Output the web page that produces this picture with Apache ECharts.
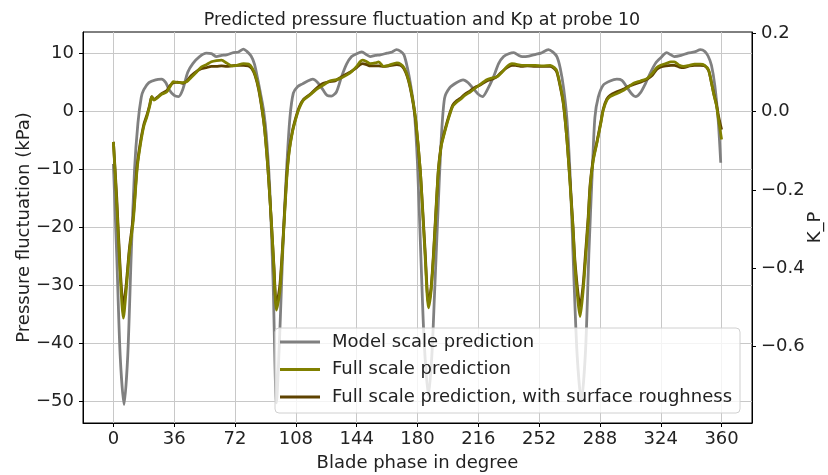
<!DOCTYPE html>
<html>
<head>
<meta charset="utf-8">
<script src="https://cdn.jsdelivr.net/npm/echarts@6/dist/echarts.min.js"></script>
<style>
  html, body { margin: 0; padding: 0; background: #fff; }
  #chart { width: 828px; height: 475px; }
</style>
</head>
<body>
<div id="chart"></div>
<script>
// blade phase ticks (deg) and axis ticks
const phaseTicks = [0, 36, 72, 108, 144, 180, 216, 252, 288, 324, 360]
const kpaTicks = [-50, -40, -30, -20, -10, 0, 10]
const kpTicks = [-0.6, -0.4, -0.2, 0.0, 0.2]

const seriesNames = [
  'Model scale prediction',
  'Full scale prediction',
  'Full scale prediction, with surface roughness',
]

// [phase deg, kPa]
const modelScale = [
  [0,-9],[2,-25],[4,-42],[6.3,-50.5],[8.5,-42],[10.5,-25],[12.5,-10],[14.5,-2],[16.5,2.5],[18,3.8],
  [21,5.0],[25,5.5],[28.5,5.6],[31,5.0],[33,3.8],[36,2.8],[38.5,2.6],[41,3.8],[44,6.8],[47,8.3],
  [51,9.5],[55,10.1],[58,10.0],[61,9.5],[64,9.7],[67,9.8],[71,10.2],[74,10.3],[77,10.8],[79,10.4],
  [81.5,9.6],[83.5,8.2],[85.5,5.5],[87.5,2.5],[89,0],[90.5,-4],[92.5,-13],[94.5,-29],[96.5,-50.2],[98.5,-38],
  [100.5,-22],[102.5,-10],[104.5,-1],[106.5,3.2],[109,4.3],[112,4.8],[115,5.3],[118,5.6],[121,5.0],[124,3.8],
  [126.5,2.8],[129,2.7],[132,3.4],[135,6.0],[138,8.2],[141,9.5],[144,10.0],[147,10.3],[150,9.8],[152,9.5],
  [155,9.7],[158,9.8],[162,10.1],[165,10.3],[167.5,10.7],[170,10.4],[172,9.8],[174,7.6],[176,4.5],[178,0.5],
  [180,-9],[182,-25],[184,-40],[186.5,-49],[188.5,-42],[190,-32],[192,-18],[194,-5],[196,2.3],[199,4.1],
  [203,5.0],[207,5.5],[210,5.0],[213,4.0],[216,3.0],[218.5,2.6],[221,3.6],[225,6.0],[228,8.3],[231,9.5],
  [234,10.0],[237,10.2],[240,9.7],[242,9.5],[246,9.6],[250,9.9],[253,10.1],[257.5,10.7],[260,10.3],[262.5,9.5],
  [264.5,7.5],[266.5,4.0],[268.5,-1.5],[270.5,-12],[272.5,-28],[274.5,-42],[277,-50],[279.5,-41],[281.5,-24],[283.5,-10],
  [285,-1],[287,2.5],[290,4.6],[294,5.3],[298,5.6],[301,5.4],[304,4.2],[307,3.0],[309,2.6],[312,3.3],
  [315,4.9],[318,6.8],[321,8.4],[324,9.3],[327.5,10.2],[330,9.8],[332,9.5],[336,9.7],[340,10.1],[344,10.3],
  [347.5,10.7],[350,10.4],[352,9.6],[354,8.0],[356,4.5],[358,-1.5],[359.5,-8.8],
]

const fullScale = [
  [0,-5.2],[2,-16],[4,-28],[5.9,-35.6],[7.5,-31],[9.5,-24],[11.8,-18.7],[14,-10],[15.8,-6],[18,-2.5],
  [19.8,-0.9],[21.5,1.0],[22.7,2.6],[24,2.0],[26,2.4],[28.5,3.0],[31.5,3.4],[33.5,4.3],[35.5,5.2],[38,5.0],
  [41,5.0],[43.5,5.2],[46,5.9],[49.4,6.9],[52,7.7],[55,8.1],[58,8.6],[61,8.8],[64,8.9],[67,8.4],
  [70,7.9],[73,8.0],[77,8.3],[80,8.2],[82,7.6],[84,6.3],[86,4.0],[88,0.5],[89.5,-3],[91.5,-10],
  [93.5,-19],[95,-27],[96.5,-34.2],[98.5,-31],[100.5,-22],[102.5,-12],[104,-7],[106,-3.5],[108,-1.2],[110,0.6],
  [112.5,2.0],[116.4,2.9],[120,3.8],[124.3,4.6],[128,5.3],[131.2,5.5],[134,5.7],[138,6.3],[141,6.9],[144,7.8],
  [146,8.6],[147.5,8.9],[150,8.6],[152,8.3],[155,8.4],[157,8.6],[159.9,7.8],[163,8.0],[167.8,8.4],[170,8.2],
  [172,7.6],[174,6.2],[175.7,4.3],[177.5,1.5],[179,-1.5],[181.6,-10],[183,-17],[184.5,-24.8],[186.5,-33.8],[188,-31],
  [189.5,-24.8],[191,-17],[192.4,-10],[194,-6],[195.4,-4.3],[197.5,-2],[199.3,-0.3],[201,1.0],[203.3,1.7],[205.3,2.1],
  [208,2.8],[211.2,3.4],[214,4.0],[217.1,4.7],[221,5.5],[224,5.8],[226.9,6.0],[230,6.8],[233,7.8],[235.9,8.3],
  [238,8.2],[241.8,8.0],[245,8.0],[249.7,8.0],[254,7.9],[258.6,8.0],[261,7.6],[262.5,7.0],[264.5,4.5],[266.4,1.4],
  [268.5,-5],[270.4,-12.9],[272,-20],[273.4,-27.3],[276.3,-35.3],[278,-31],[279.3,-26.1],[281,-19],[282.2,-12.9],[284,-8.5],
  [286.2,-5.4],[288.5,-2],[290,0.3],[292.1,2.0],[294,2.6],[297,3.0],[302,3.7],[305,4.3],[307.9,4.9],[312,5.3],
  [315.8,5.7],[319,6.6],[321.7,7.6],[324,8.0],[327,8.3],[330,8.6],[332,8.6],[335,8.0],[337.5,7.8],[341,8.0],
  [344,8.2],[347.4,8.2],[350,8.0],[352.3,7.2],[354,5.0],[355.3,3.1],[357,1.0],[358.2,-1.4],[360,-4.8],
]

const fullScaleRough = [
  [0,-5.2],[2,-15],[4,-27],[5.9,-33.6],[7.5,-30],[9.5,-23.5],[11.8,-18],[14,-9.5],[15.8,-5.6],[18,-2.2],
  [19.8,-0.6],[21.5,1.2],[22.7,2.6],[24,2.1],[26,2.5],[28.5,3.1],[31.5,3.6],[33.5,4.5],[35.5,5.0],[38,5.1],
  [41,4.9],[43.5,5.3],[46,6.2],[49.4,7.0],[52,7.4],[55,7.6],[58,7.8],[61,7.8],[64,7.9],[67,7.8],
  [70,7.9],[73,8.0],[77,8.0],[80,7.9],[82,7.4],[84,6.1],[86,3.8],[88,0.3],[89.5,-3],[91.5,-10],
  [93.5,-19],[95,-26.5],[96.5,-33.4],[98.5,-30],[100.5,-21.5],[102.5,-11.5],[104,-6.8],[106,-3.3],[108,-1.0],[110,0.8],
  [112.5,2.1],[116.4,3.0],[120,4.0],[124.3,4.9],[128,5.2],[131.2,5.3],[134,5.8],[138,6.5],[141,7.0],[144,7.6],
  [146,8.1],[147.5,8.3],[150,8.1],[152,7.9],[155,7.9],[157,7.9],[159.9,7.8],[163,7.9],[167.8,8.1],[170,8.0],
  [172,7.4],[174,6.0],[175.7,4.1],[177.5,1.3],[179,-1.7],[181.6,-10],[183,-16.5],[184.5,-24],[186.5,-33.0],[188,-30.5],
  [189.5,-24.3],[191,-16.5],[192.4,-9.8],[194,-5.8],[195.4,-4.1],[197.5,-1.8],[199.3,-0.1],[201,1.2],[203.3,1.9],[205.3,2.3],
  [208,3.0],[211.2,3.6],[214,4.2],[217.1,4.6],[221,5.3],[224,5.6],[226.9,6.0],[230,6.9],[233,7.6],[235.9,8.0],
  [238,8.0],[241.8,7.8],[245,7.9],[249.7,7.8],[254,7.8],[258.6,7.8],[261,7.4],[262.5,6.8],[264.5,4.3],[266.4,1.2],
  [268.5,-5],[270.4,-12.5],[272,-19.5],[273.4,-26.5],[276.3,-33.6],[278,-30],[279.3,-25],[281,-18.3],[282.2,-12.5],[284,-8.2],
  [286.2,-5.2],[288.5,-1.8],[290,0.5],[292.1,2.2],[294,2.8],[297,3.3],[302,3.9],[305,4.4],[307.9,4.7],[312,5.1],
  [315.8,5.6],[319,6.3],[321.7,7.3],[324,7.7],[327,7.9],[330,8.0],[332,8.0],[335,7.7],[337.5,7.6],[341,7.9],
  [344,8.0],[347.4,8.0],[350,7.9],[352.3,7.1],[354,5.0],[355.3,3.2],[357,1.2],[358.2,-0.8],[360,-3.1],
]

const colors = ['#808080', '#808000', '#5e4200']
const fontFamily = 'DejaVu Sans'
const minus = (s) => String(s).replace('-', '\u2212')

const option = {
  animation: false,
  textStyle: { fontFamily },
  title: {
    text: 'Predicted pressure fluctuation and Kp at probe 10',
    left: 417,
    textAlign: 'center',
    top: 6,
    textStyle: { fontFamily, fontSize: 17.5, fontWeight: 'normal', color: '#222' },
  },
  grid: {
    left: 83, right: 76, top: 32, bottom: 52,
    containLabel: false,
    outerBoundsMode: 'none',
    show: true, borderColor: '#000', borderWidth: 1,
  },
  legend: {
    orient: 'vertical',
    left: 275, top: 328,
    padding: [5, 8, 7, 5],
    itemGap: 9.5,
    itemWidth: 40,
    itemHeight: 3,
    icon: 'rect',
    backgroundColor: 'rgba(255,255,255,0.8)',
    borderColor: '#d0d0d0',
    borderWidth: 1,
    borderRadius: 4,
    textStyle: { fontFamily, fontSize: 18, color: '#222', padding: [0, 0, 0, 7] },
    data: seriesNames,
  },
  xAxis: {
    type: 'value',
    min: -18, max: 378,
    name: 'Blade phase in degree',
    nameLocation: 'middle',
    nameGap: 31,
    nameMoveOverlap: false,
    nameTextStyle: { fontFamily, fontSize: 18, color: '#222' },
    axisLine: { show: true, onZero: false, lineStyle: { color: '#000' } },
    axisTick: { show: true, length: 4, customValues: phaseTicks, lineStyle: { color: '#000' } },
    axisLabel: { customValues: phaseTicks, fontSize: 18, color: '#222', margin: 7 },
    splitLine: { show: true, lineStyle: { color: '#c8c8c8', width: 1 } },
  },
  yAxis: [
    {
      type: 'value',
      min: -53.67, max: 13.74,
      position: 'left',
      name: 'Pressure fluctuation (kPa)',
      nameLocation: 'middle',
      nameGap: 50,
      nameMoveOverlap: false,
      nameTextStyle: { fontFamily, fontSize: 18, color: '#222' },
      axisLine: { show: true, onZero: false, lineStyle: { color: '#000' } },
      axisTick: { show: true, length: 4, customValues: kpaTicks, lineStyle: { color: '#000' } },
      axisLabel: { customValues: kpaTicks, fontSize: 18, color: '#222', margin: 9, formatter: (v) => minus(v) },
      splitLine: { show: true, lineStyle: { color: '#c8c8c8', width: 1 } },
    },
    {
      type: 'value',
      min: -0.795, max: 0.2035,
      position: 'right',
      name: 'K_P',
      nameLocation: 'middle',
      nameGap: 54,
      nameRotate: 90,
      nameMoveOverlap: false,
      nameTextStyle: { fontFamily, fontSize: 18, color: '#222' },
      axisLine: { show: true, onZero: false, lineStyle: { color: '#000' } },
      axisTick: { show: true, length: 4, customValues: kpTicks, lineStyle: { color: '#000' } },
      axisLabel: { customValues: kpTicks, fontSize: 18, color: '#222', margin: 9, formatter: (v) => minus(v.toFixed(1)) },
      splitLine: { show: false },
    },
  ],
  series: [
    { name: seriesNames[0], data: modelScale, color: colors[0], z: 2 },
    { name: seriesNames[1], data: fullScale, color: colors[1], z: 4 },
    { name: seriesNames[2], data: fullScaleRough, color: colors[2], z: 3 },
  ].map((s) => ({
    ...s,
    type: 'line',
    showSymbol: false,
    smooth: 0.25,
    lineStyle: { width: 2.8, color: s.color },
    itemStyle: { color: s.color },
  })),
}

const chart = echarts.init(document.getElementById('chart'))
chart.setOption(option)
</script>
</body>
</html>
